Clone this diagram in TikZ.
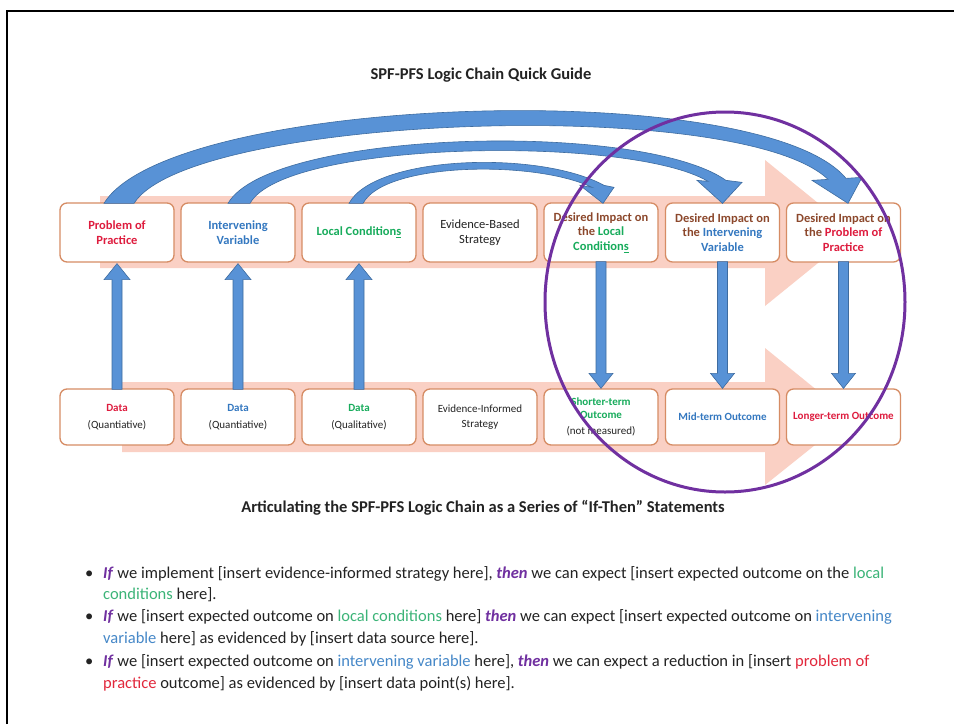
\documentclass[tikz,border=0pt]{standalone}
\usepackage{fontspec}
\setmainfont{Carlito}
\usetikzlibrary{calc}
\definecolor{boxc}{RGB}{214,140,100}
\definecolor{pinkc}{RGB}{250,208,196}
\definecolor{bluef}{RGB}{88,146,214}
\definecolor{bluee}{RGB}{62,108,160}
\definecolor{cred}{RGB}{222,28,62}
\definecolor{cblue}{RGB}{52,120,192}
\definecolor{cgreen}{RGB}{24,172,92}
\definecolor{cbrown}{RGB}{140,72,44}
\definecolor{kwpurple}{RGB}{112,48,160}
\definecolor{ellc}{RGB}{112,48,160}
\definecolor{bgreen}{RGB}{60,180,120}
\definecolor{bblue}{RGB}{70,136,200}
\definecolor{bred}{RGB}{226,40,60}
\definecolor{txt}{RGB}{35,35,35}
\newcommand\kw[1]{\textcolor{kwpurple}{\textbf{\textit{#1}}}}
\newcommand\uparr[2]{\filldraw[barrow] ($(#1.north)+(-5,1)$) -- ($(#2.south)+(-5,17)$) -- ($(#2.south)+(-13,17)$) -- ($(#2.south)+(0,1)$) -- ($(#2.south)+(13,17)$) -- ($(#2.south)+(5,17)$) -- ($(#1.north)+(5,1)$) -- cycle;}
\newcommand\downarr[2]{\filldraw[barrow] ($(#1.south)+(-5,-1)$) -- ($(#2.north)+(-5,-15)$) -- ($(#2.north)+(-12,-15)$) -- ($(#2.north)+(0,0)$) -- ($(#2.north)+(12,-15)$) -- ($(#2.north)+(5,-15)$) -- ($(#1.south)+(5,-1)$) -- cycle;}
\tikzset{
  tbox/.style={draw=boxc, line width=1.3pt, fill=white, rounded corners=7pt,
    minimum width=114pt, minimum height=59pt, align=center, inner sep=2pt,
    font=\fontsize{12.5}{14.5}\selectfont\bfseries},
  bbox/.style={draw=boxc, line width=1.3pt, fill=white, rounded corners=7pt,
    minimum width=114pt, minimum height=56pt, align=center, inner sep=2pt,
    font=\fontsize{11}{17}\selectfont, text=txt},
  barc/.style={fill=bluef, draw=bluee, line width=0.6pt},
  barrow/.style={fill=bluef, draw=bluee, line width=0.6pt},
  bline/.style={anchor=base west, inner sep=0pt, text=txt, font=\fontsize{16.5}{19}\selectfont},
  heading/.style={font=\fontsize{16.5}{19}\selectfont\bfseries, text=txt, inner sep=0pt}
}
\begin{document}
\begin{tikzpicture}[x=1pt,y=-1pt]
\useasboundingbox (0,0) rectangle (954,724);
\fill[white] (0,0) rectangle (954,724);
% frame
\draw[line width=2.5pt] (7,724) -- (7,11) -- (954,11);
% pink background arrows
\fill[pinkc] (100,196) -- (765,196) -- (765,160) -- (855,233) -- (765,306) -- (765,268) -- (100,268) -- cycle;
\fill[pinkc] (122,382) -- (765,382) -- (765,348) -- (850,417) -- (765,485) -- (765,452) -- (122,452) -- cycle;
% titles
\node[heading] (title) at (481,75) {SPF-PFS Logic Chain Quick Guide};
\node[heading] (title2) at (483,508) {Articulating the SPF-PFS Logic Chain as a Series of “If-Then” Statements};
% top row
\node[tbox, text=cred] (t1) at (117,232.5) {Problem of\\Practice};
\node[tbox, text=cblue] (t2) at (238,232.5) {Intervening\\Variable};
\node[tbox, text=cgreen] (t3) at (359,232.5) {Local Condition\underline{s}};
\node[tbox, text=txt, font=\fontsize{12.5}{14.5}\selectfont] (t4) at (480,232.5) {Evidence-Based\\Strategy};
\node[tbox, text=cbrown] (t5) at (601,232.5) {Desired Impact on\\the {\color{cgreen}Local}\\{\color{cgreen}Condition\underline{s}}};
\node[tbox, text=cbrown] (t6) at (722.5,232.5) {Desired Impact on\\the {\color{cblue}Intervening}\\{\color{cblue}Variable}};
\node[tbox, text=cbrown] (t7) at (843.5,232.5) {Desired Impact on\\the {\color{cred}Problem of}\\{\color{cred}Practice}};
% bottom row
\node[bbox] (b1) at (117,417) {{\bfseries\color{cred}Data}\\(Quantiative)};
\node[bbox] (b2) at (238,417) {{\bfseries\color{cblue}Data}\\(Quantiative)};
\node[bbox] (b3) at (359,417) {{\bfseries\color{cgreen}Data}\\(Qualitative)};
\node[bbox, font=\fontsize{11}{15}\selectfont] (b4) at (480,417) {Evidence-Informed\\Strategy};
\node[bbox, font=\fontsize{11}{12.5}\selectfont] (b5) at (601,417) {{\bfseries\color{cgreen}Shorter-term}\\{\bfseries\color{cgreen}Outcome}\\[4pt](not measured)};
\node[bbox] (b6) at (722.5,417) {{\bfseries\color{cblue}Mid-term Outcome}};
\node[bbox] (b7) at (843.5,417) {{\bfseries\color{cred}Longer-term Outcome}};
% curved arrows
\filldraw[barc] ($(t1.north)+(-13,1)$) .. controls (170,95) and (760,75) .. ($(t7.north)+(2.5,-24)$)
  -- ($(t7.north)+(18.5,-25)$) -- ($(t7.north)+(4.5,1)$) -- ($(t7.north)+(-31.5,-22)$)
  -- ($(t7.north)+(-15.5,-23)$) .. controls (740,95) and (190,115) .. ($(t1.north)+(17,1)$) -- cycle;
\filldraw[barc] ($(t2.north)+(-10,1)$) .. controls (270,130) and (640,120) .. ($(t6.north)+(3.5,-22)$)
  -- ($(t6.north)+(19.5,-20)$) -- ($(t6.north)+(0,1)$) -- ($(t6.north)+(-25.5,-22)$)
  -- ($(t6.north)+(-14.5,-21)$) .. controls (630,135) and (285,140) .. ($(t2.north)+(12,1)$) -- cycle;
\filldraw[barc] ($(t3.north)+(-10,1)$) .. controls (375,155) and (540,150) .. ($(t5.north)+(3,-17)$)
  -- ($(t5.north)+(13,-15)$) -- ($(t5.north)+(2,1)$) -- ($(t5.north)+(-21,-17)$)
  -- ($(t5.north)+(-9,-15)$) .. controls (535,160) and (385,162) .. ($(t3.north)+(4,1)$) -- cycle;
% vertical arrows
\uparr{b1}{t1}
\uparr{b2}{t2}
\uparr{b3}{t3}
\downarr{t5}{b5}
\downarr{t6}{b6}
\downarr{t7}{b7}
% ellipse
\draw[ellc, line width=3pt] (725,302) ellipse [x radius=180, y radius=190];
% bullets
\foreach \yy/\nm in {578/d1,621/d2,666/d3}{
  \node[anchor=base west, inner sep=0pt, text=txt, font=\fontsize{16.5}{19}\selectfont] (\nm) at (85,\yy) {\textbullet};
}
\node[bline] (l1) at (103,578) {\kw{If} we implement [insert evidence-informed strategy here], \kw{then} we can expect [insert expected outcome on the {\color{bgreen}local}};
\node[bline] (l2) at (103,599) {{\color{bgreen}conditions} here].};
\node[bline] (l3) at (103,621) {\kw{If} we [insert expected outcome on {\color{bgreen}local conditions} here] \kw{then} we can expect [insert expected outcome on {\color{bblue}intervening}};
\node[bline] (l4) at (103,643) {{\color{bblue}variable} here] as evidenced by [insert data source here].};
\node[bline] (l5) at (103,666) {\kw{If} we [insert expected outcome on {\color{bblue}intervening variable} here], \kw{then} we can expect a reduction in [insert {\color{bred}problem of}};
\node[bline] (l6) at (103,688) {{\color{bred}practice} outcome] as evidenced by [insert data point(s) here].};
\end{tikzpicture}
\end{document}
